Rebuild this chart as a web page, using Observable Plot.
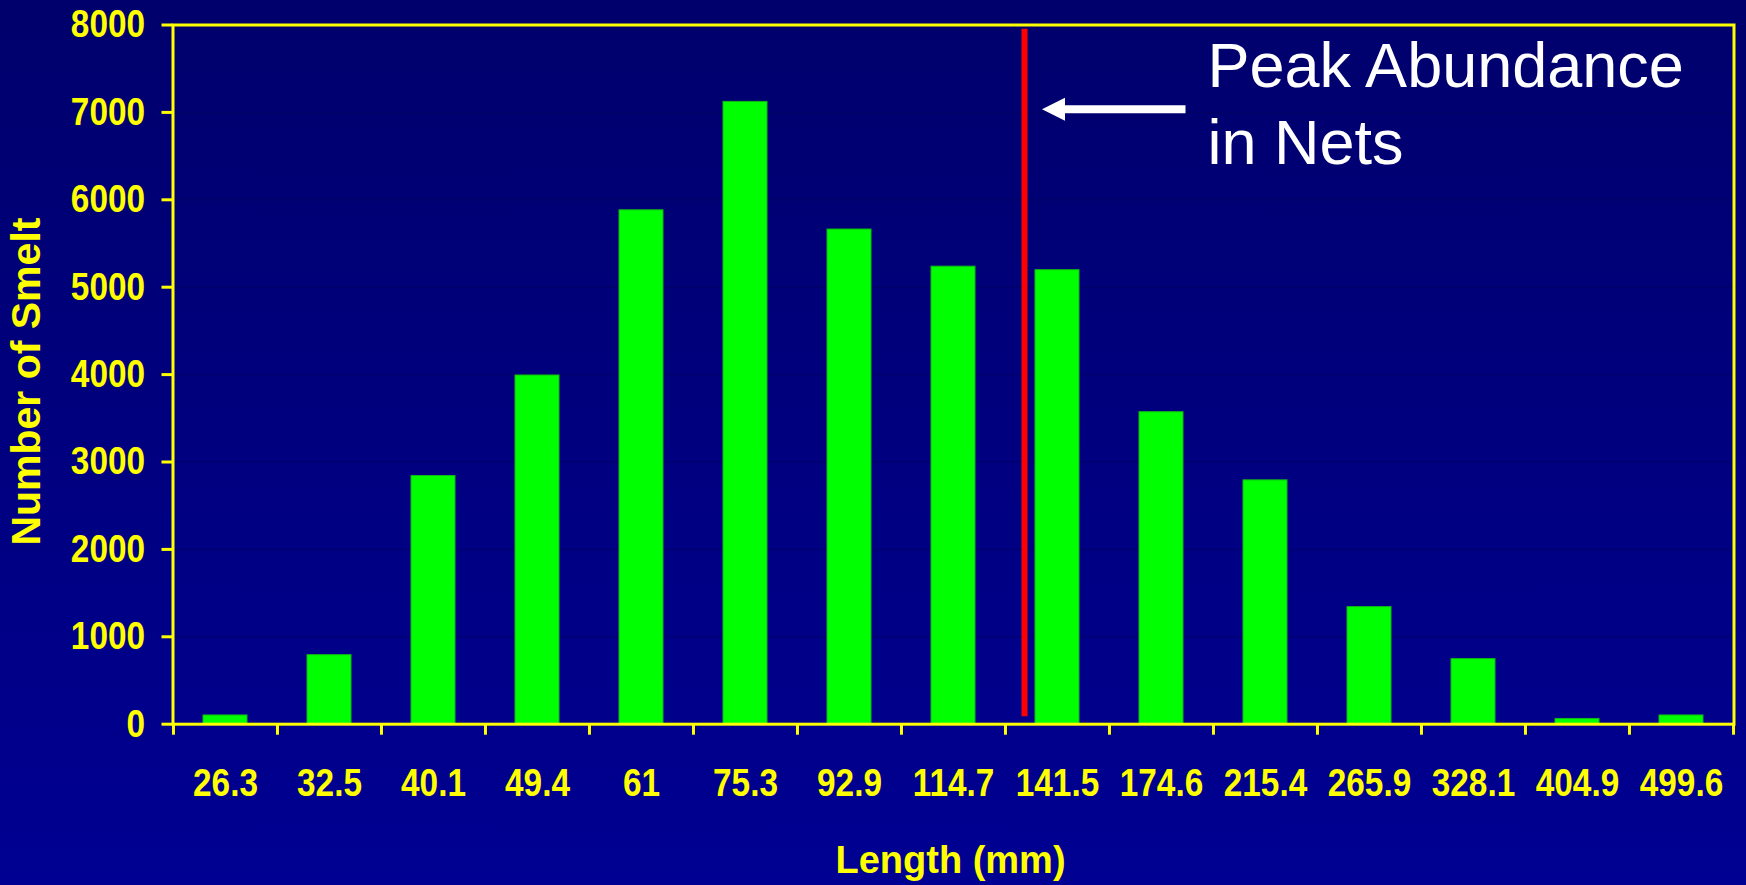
<!DOCTYPE html>
<html><head><meta charset="utf-8">
<script src="https://cdn.jsdelivr.net/npm/d3@7"></script>
<script src="https://cdn.jsdelivr.net/npm/@observablehq/plot@0.6"></script>
<style>
html,body{margin:0;padding:0;overflow:hidden;}
body{width:1746px;height:885px;background:linear-gradient(180deg,#00006c 0%,#000092 100%);}
#chart svg{display:block;}
</style></head><body><div id="chart"></div>
<script>
// Length classes (mm) and number of smelt in each class
const lengths = ["26.3","32.5","40.1","49.4","61","75.3","92.9","114.7","141.5","174.6","215.4","265.9","328.1","404.9","499.6"];
const counts  = [100, 790, 2840, 3990, 5880, 7120, 5660, 5235, 5195, 3570, 2790, 1340, 745, 60, 100];
const yTicks  = [0, 1000, 2000, 3000, 4000, 5000, 6000, 7000, 8000];

// Annotation: peak abundance in nets
const peakClass = "141.5";
const labelClass = "174.6";
const peakLineFrom = 85, peakLineTo = 7950;
const arrowLevel = 7035;
const labelLevel = 7915;
const peakText = "Peak Abundance\nin Nets";
const xTitle = "Length (mm)";
const yTitle = "Number of Smelt";

const data = lengths.map((len, i) => ({len, count: counts[i]}));

const mainFont = "'Liberation Sans', Arial, Helvetica, sans-serif";
const tickFontSize = 39;
const tickSqueeze = 0.855;

const width = 1746, height = 885;
const marginLeft = 172.5, marginRight = 12.5, marginTop = 24.5, marginBottom = 161.3;
const bw = (width - marginLeft - marginRight) / lengths.length;
const frameH = height - marginTop - marginBottom;

const leftTriangle = {
  draw(ctx, size) {
    const r = Math.sqrt(size / Math.PI);
    ctx.moveTo(-r, 0); ctx.lineTo(r, -r); ctx.lineTo(r, r); ctx.closePath();
  }
};

const yellow = "#ffff00";

const chart = Plot.plot({
  width, height, marginLeft, marginRight, marginTop, marginBottom,
  style: {background: "transparent", color: yellow, overflow: "visible"},
  x: {type: "band", domain: lengths, padding: 0},
  y: {domain: [0, 8000]},
  marks: [
    Plot.gridY({ticks: yTicks, stroke: "#000050", strokeOpacity: 0.35, strokeWidth: 1.5}),
    Plot.barY(data, {x: "len", y: "count", fill: "#00ff00", stroke: "#12b812", strokeWidth: 1, insetLeft: 30, insetRight: 30}),
    Plot.axisY({ticks: yTicks, tickFormat: d => String(d), tickSize: 11, tickPadding: 17, strokeWidth: 3, fontSize: tickFontSize, fontFamily: mainFont, fontWeight: "bold", label: null}),
    Plot.axisX({tickSize: 0, tickPadding: 44, fontSize: tickFontSize, fontFamily: mainFont, fontWeight: "bold", label: null}),
    Plot.ruleX(lengths, {stroke: yellow, strokeWidth: 3, dx: -bw / 2, insetTop: frameH, insetBottom: -11}),
    Plot.ruleX([lengths[lengths.length - 1]], {stroke: yellow, strokeWidth: 3, dx: bw / 2, insetTop: frameH, insetBottom: -11}),
    Plot.frame({stroke: yellow, strokeWidth: 3}),
    Plot.ruleX([peakClass], {y1: peakLineFrom, y2: peakLineTo, stroke: "#ff0000", strokeWidth: 6, dx: -33}),
    Plot.arrow([{x1: labelClass, x2: peakClass, y: arrowLevel}], {x1: "x1", x2: "x2", y1: "y", y2: "y", stroke: "white", strokeWidth: 8, headLength: 0, insetStart: -24, insetEnd: 5, strokeLinecap: "butt"}),
    Plot.dot([{x: peakClass, y: arrowLevel}], {x: "x", y: "y", symbol: leftTriangle, r: 11.5, fill: "white", stroke: "none", dx: -4}),
    Plot.text([{x: labelClass, y: labelLevel, t: peakText}], {x: "x", y: "y", text: "t", fill: "white", fontSize: 63, fontFamily: mainFont, textAnchor: "start", lineAnchor: "top", lineHeight: 1.222, dx: 46}),
    Plot.text([yTitle], {frameAnchor: "left", textAnchor: "middle", rotate: -90, dx: -146, dy: 7, fill: yellow, fontSize: 41, fontWeight: "bold", fontFamily: mainFont}),
    Plot.text([xTitle], {frameAnchor: "bottom", textAnchor: "middle", dx: -3, dy: 149, fill: yellow, fontSize: 38, fontWeight: "bold", fontFamily: mainFont})
  ]
});

// Condense tick labels horizontally, like the original slide rendering
chart.querySelectorAll('g[aria-label="y-axis tick label"] text, g[aria-label="x-axis tick label"] text').forEach(t => {
  const tr = t.getAttribute("transform");
  if (tr) t.setAttribute("transform", `${tr} scale(${tickSqueeze},1)`);
  else {
    const x = +(t.getAttribute("x") || 0);
    t.setAttribute("transform", `translate(${x},0) scale(${tickSqueeze},1) translate(${-x},0)`);
  }
});

document.getElementById("chart").appendChild(chart);
</script>
</body></html>
